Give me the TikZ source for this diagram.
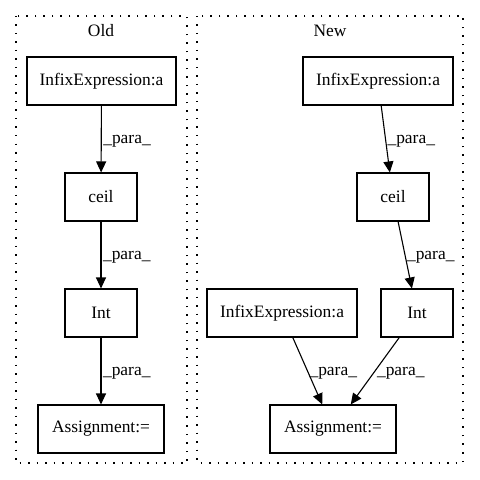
\documentclass[tikz,border=0pt]{standalone}
\usepackage{fontspec}
\setmainfont{Liberation Serif}
\usetikzlibrary{arrows.meta}

\begin{document}
\begin{tikzpicture}[x=1bp,y=-1bp]
  \tikzstyle{every node}=[font=\fontsize{17.5}{20}\selectfont]
  \tikzstyle{box}=[rectangle,draw,line width=1.1bp,minimum height=48bp,inner sep=0pt]
  \tikzstyle{para}=[-{Triangle[length=11bp,width=10bp]},line width=1.1bp]
  \tikzstyle{lbl}=[anchor=west,inner sep=1.5bp,yshift=-2bp]
  \tikzstyle{cluster}=[line width=1.3bp,dash pattern=on 1.5bp off 7bp]
  \useasboundingbox (0,0) rectangle (480,480);
  \draw[cluster] (16,16) rectangle (187,463);
  \draw[cluster] (197,16) rectangle (463,463);
  \node (oldlbl) at (101,31) {Old};
  \node (newlbl) at (330,31) {New};
  % Old
  \node[box,minimum width=149bp] (oinfix) at (101.5,81) {InfixExpression:a};
  \node[box,minimum width=72bp] (oceil) at (101,197) {ceil};
  \node[box,minimum width=72bp] (oint) at (101,313) {Int};
  \node[box,minimum width=126bp] (oassign) at (101,429) {Assignment:=};
  \draw[para] (oinfix) -- node[lbl]{\_para\_} (oceil);
  \draw[para] (oceil) -- node[lbl]{\_para\_} (oint);
  \draw[para] (oint) -- node[lbl]{\_para\_} (oassign);
  % New
  \node[box,minimum width=150bp] (ninfix) at (378,81) {InfixExpression:a};
  \node[box,minimum width=72bp] (nceil) at (393,197) {ceil};
  \node[box,minimum width=72bp] (nint) at (417,313) {Int};
  \node[box,minimum width=150bp] (ninfixb) at (282,313) {InfixExpression:a};
  \node[box,minimum width=126bp] (nassign) at (333,429) {Assignment:=};
  \draw[para] (ninfix) -- node[lbl]{\_para\_} (nceil);
  \draw[para] (nceil) -- node[lbl]{\_para\_} (nint);
  \draw[para] (ninfixb) -- node[lbl]{\_para\_} (nassign);
  \draw[para] (nint) -- node[lbl]{\_para\_} (nassign);
\end{tikzpicture}
\end{document}
